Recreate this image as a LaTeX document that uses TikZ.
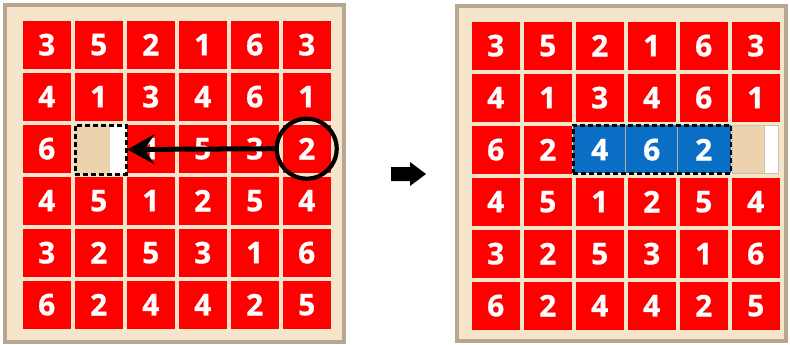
\documentclass[tikz,border=0pt]{standalone}
\usepackage{fontspec}
\setmainfont{Open Sans}
\newfontfamily\numfont{Open Sans}[BoldFeatures={FakeBold=0.6}]
\usetikzlibrary{arrows.meta}
\definecolor{cellred}{HTML}{FF0000}
\definecolor{cellblue}{HTML}{0A6FC4}
\definecolor{frame}{HTML}{B9A690}
\definecolor{boardbg}{HTML}{F5E5CB}
\definecolor{blockbeige}{HTML}{EDD3AD}
\definecolor{sepgray}{HTML}{B8B4A8}
\begin{document}
\begin{tikzpicture}[x=1pt,y=-1pt,
  boardframe/.style={line width=4pt,draw=frame,fill=boardbg},
  cell/.style={rectangle,fill=cellred,minimum size=48pt,inner sep=0pt,text=white,
    font=\numfont\fontsize{30}{30}\selectfont\bfseries},
  bluenum/.style={inner sep=0pt,text=white,font=\numfont\fontsize{30}{30}\selectfont\bfseries},
  dashbox/.style={rectangle,draw=black,line width=3pt,dash pattern=on 5pt off 3pt,inner sep=0pt}]
\useasboundingbox (0,0) rectangle (790,345);
\fill[white] (0,0) rectangle (790,345);
% boards
\draw[boardframe] (5,5) rectangle (344,342);
\draw[boardframe] (457,6) rectangle (786,341);
% left grid
\foreach \r/\vals in {0/{3,5,2,1,6,3},1/{4,1,3,4,6,1},2/{6,0,1,5,3,2},3/{4,5,1,2,5,4},4/{3,2,5,3,1,6},5/{6,2,4,4,2,5}}{
  \foreach \v [count=\c from 0] in \vals {
    \ifnum\v>0
      \node[cell] (L\r\c) at ({46.7+52*\c},{44.7+52*\r}) {\v};
    \fi
  }
}
% right grid
\foreach \r/\vals in {0/{3,5,2,1,6,3},1/{4,1,3,4,6,1},2/{6,2,0,0,0,0},3/{4,5,1,2,5,4},4/{3,2,5,3,1,6},5/{6,2,4,4,2,5}}{
  \foreach \v [count=\c from 0] in \vals {
    \ifnum\v>0
      \node[cell] (R\r\c) at ({495.7+52*\c},{45.7+52*\r}) {\v};
    \fi
  }
}
% left empty block
\fill[blockbeige] (75,125) rectangle (110,174);
\fill[white] (110,125) rectangle (126,174);
\node[dashbox,minimum width=51pt,minimum height=49pt] (Lblk) at (100.5,149.5) {};
% circle around the 2
\node[circle,draw=black,line width=4.2pt,minimum size=60pt,inner sep=0pt] (circ) at (L25) {};
\draw[line width=5pt,-{Stealth[length=27pt,width=30pt,inset=10pt]}] (circ.west) -- (Lblk.east);
% middle arrow
\fill[black] (391,167) -- (410,167) -- (410,162) -- (426,174) -- (410,186) -- (410,181) -- (391,181) -- cycle;
% right blue block
\fill[cellblue] (573,125) rectangle (731,173);
\draw[sepgray,line width=1.5pt] (625.7,125) -- (625.7,173);
\draw[sepgray,line width=1.5pt] (677.7,125) -- (677.7,173);
\node[bluenum] (B1) at (599.7,149.7) {4};
\node[bluenum] (B2) at (651.7,149.7) {6};
\node[bluenum] (B3) at (703.7,149.7) {2};
\node[dashbox,minimum width=158pt,minimum height=48pt] (Rblu) at (652,149) {};
% right empty block
\fill[blockbeige] (732,125) rectangle (764,173);
\fill[white] (764,125) rectangle (778,173);
\draw[frame!70,line width=1pt] (732,125) rectangle (778,173);
\draw[frame!70,line width=1pt] (764,125) -- (764,173);
\end{tikzpicture}
\end{document}
